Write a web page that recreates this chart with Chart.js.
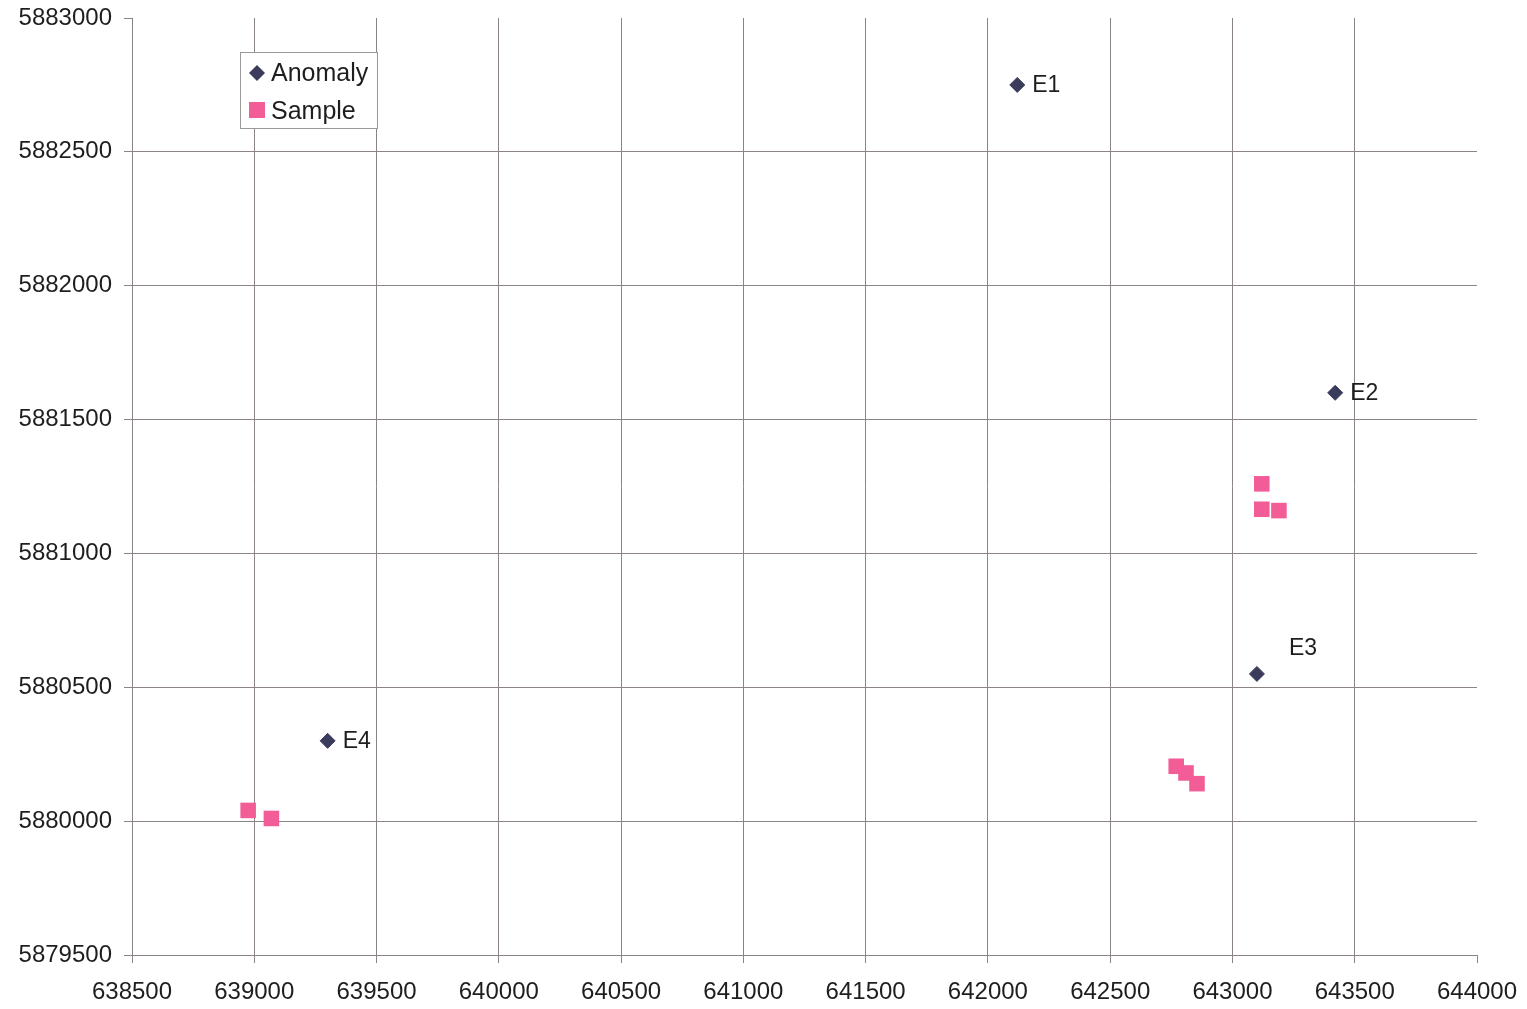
<!DOCTYPE html>
<html lang="en">
<head>
  <meta charset="UTF-8" />
  <title>Anomaly and sample locations</title>
  <script src="https://cdn.jsdelivr.net/npm/chart.js"></script>
  <style>
    body { margin: 0; background: #fff; }
    #wrap { width: 1527px; height: 1009px; }
  </style>
</head>
<body>
  <div id="wrap"><canvas id="chartMap" width="1527" height="1009"></canvas></div>

  <script>
    // Easting / northing
    const anomalyX = [642120, 643420, 643100, 639300];
    const anomalyY = [5882750, 5881600, 5880550, 5880300];
    const anomalyLabels = ['E1', 'E2', 'E3', 'E4'];

    const sampleX = [643120, 643120, 643190, 642770, 642810, 642855, 638975, 639070];
    const sampleY = [5881260, 5881165, 5881160, 5880205, 5880180, 5880140, 5880040, 5880010];

    const xTicks = [638500, 639000, 639500, 640000, 640500, 641000, 641500, 642000, 642500, 643000, 643500, 644000];
    const yTicks = [5879500, 5880000, 5880500, 5881000, 5881500, 5882000, 5882500, 5883000];

    const anomalyColor = '#3b3b5c';
    const sampleColor = '#f25c97';
    const gridColor = '#8c8484';
    const textColor = '#1e1e1e';
    const font = 'Liberation Sans, Arial, sans-serif';

    const anomalyPts = anomalyX.map((x, i) => ({ x: x, y: anomalyY[i] }));
    const samplePts = sampleX.map((x, i) => ({ x: x, y: sampleY[i] }));

    // grid line on every tick except the last one (no top / right frame)
    function gridFor(ticks) {
      return ctx => (ctx.tick && ctx.tick.value === ticks[ticks.length - 1]) ? 'rgba(0,0,0,0)' : gridColor;
    }

    // labels E1..E4 next to the anomaly points
    const pointLabels = {
      id: 'pointLabels',
      afterDatasetsDraw(chart) {
        const ctx = chart.ctx;
        const meta = chart.getDatasetMeta(0);
        ctx.save();
        ctx.font = '23px ' + font;
        ctx.fillStyle = textColor;
        ctx.textBaseline = 'middle';
        meta.data.forEach((pt, i) => {
          let dx = 15, dy = 1;
          if (anomalyLabels[i] === 'E3') { dx = 32; dy = -25; }
          ctx.fillText(anomalyLabels[i], pt.x + dx, pt.y + dy);
        });
        ctx.restore();
      }
    };

    // legend box inside the plot, top left
    const boxLegend = {
      id: 'boxLegend',
      afterDraw(chart) {
        const ctx = chart.ctx;
        const a = chart.chartArea;
        const x0 = a.left + 108, y0 = a.top + 34;
        ctx.save();
        ctx.fillStyle = '#fff';
        ctx.fillRect(x0, y0, 137, 76);
        ctx.strokeStyle = '#9a9a9a';
        ctx.lineWidth = 1;
        ctx.strokeRect(x0 + 0.5, y0 + 0.5, 137, 76);

        // diamond
        const dx = x0 + 17, dy = y0 + 21;
        ctx.fillStyle = anomalyColor;
        ctx.beginPath();
        ctx.moveTo(dx - 8, dy);
        ctx.lineTo(dx, dy - 8);
        ctx.lineTo(dx + 8, dy);
        ctx.lineTo(dx, dy + 8);
        ctx.closePath();
        ctx.fill();

        // square
        ctx.fillStyle = sampleColor;
        ctx.fillRect(x0 + 9, y0 + 50, 16, 16);

        ctx.fillStyle = textColor;
        ctx.font = '25px ' + font;
        ctx.textBaseline = 'middle';
        ctx.fillText('Anomaly', x0 + 31, y0 + 22);
        ctx.fillText('Sample', x0 + 31, y0 + 60);
        ctx.restore();
      }
    };

    new Chart(document.getElementById('chartMap'), {
      type: 'scatter',
      data: {
        datasets: [
          {
            label: 'Anomaly',
            data: anomalyPts,
            pointStyle: 'rectRot',
            pointRadius: 7.5,
            backgroundColor: anomalyColor,
            borderColor: anomalyColor,
            borderWidth: 1
          },
          {
            label: 'Sample',
            data: samplePts,
            pointStyle: 'rect',
            pointRadius: 11,
            backgroundColor: sampleColor,
            borderColor: sampleColor,
            borderWidth: 0
          }
        ]
      },
      options: {
        responsive: false,
        animation: false,
        layout: { padding: { top: 18, right: 50, left: 0, bottom: 0 } },
        plugins: {
          legend: { display: false },
          tooltip: { enabled: false }
        },
        scales: {
          x: {
            type: 'linear',
            min: xTicks[0],
            max: xTicks[xTicks.length - 1],
            afterFit(scale) {
              scale.height = 54;
              scale.paddingLeft = 0;
              scale.paddingRight = 0;
            },
            afterBuildTicks(scale) { scale.ticks = xTicks.map(v => ({ value: v })); },
            grid: { color: gridFor(xTicks), tickColor: gridColor, tickLength: 8, lineWidth: 1 },
            border: { color: gridColor, width: 1 },
            ticks: {
              color: textColor,
              font: { family: font, size: 24 },
              padding: 15,
              maxRotation: 0,
              autoSkip: false,
              callback: v => String(v)
            }
          },
          y: {
            type: 'linear',
            min: yTicks[0],
            max: yTicks[yTicks.length - 1],
            afterFit(scale) {
              scale.width = 132;
              scale.paddingTop = 0;
              scale.paddingBottom = 0;
            },
            afterBuildTicks(scale) { scale.ticks = yTicks.map(v => ({ value: v })); },
            grid: { color: gridFor(yTicks), tickColor: gridColor, tickLength: 8, lineWidth: 1 },
            border: { color: gridColor, width: 1 },
            ticks: {
              color: textColor,
              font: { family: font, size: 24 },
              padding: 12,
              autoSkip: false,
              callback: v => String(v)
            }
          }
        }
      },
      plugins: [pointLabels, boxLegend]
    });
  </script>
</body>
</html>
